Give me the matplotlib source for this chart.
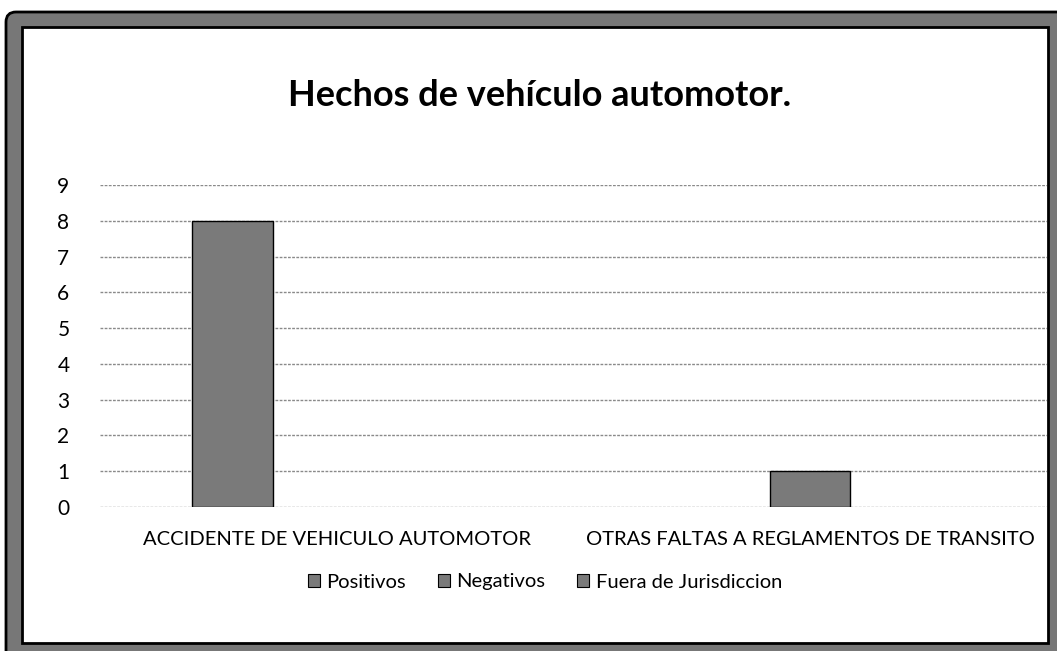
import numpy as np
import matplotlib
matplotlib.use('Agg')
import matplotlib.pyplot as plt
from matplotlib.patches import FancyBboxPatch, Rectangle

plt.rcParams['font.family'] = ['Lato', 'DejaVu Sans']

# Data
categories = ['ACCIDENTE DE VEHICULO AUTOMOTOR', 'OTRAS FALTAS A REGLAMENTOS DE TRANSITO']
series_names = ['Positivos', 'Negativos', 'Fuera de Jurisdiccion']
positivos = [8, 0]
negativos = [0, 1]
fuera = [0, 0]
y_ticks = list(range(0, 10))

W, H = 1057, 651
fig = plt.figure(figsize=(W / 100, H / 100), dpi=100)
fig.patch.set_facecolor('white')

# scanned frame around the chart
bg = fig.add_axes([0, 0, 1, 1])
bg.set_xlim(0, W)
bg.set_ylim(H, 0)
bg.axis('off')
bg.add_patch(FancyBboxPatch((6, 12), W + 20, H + 20, boxstyle='round,pad=0,rounding_size=10',
                            facecolor='#777777', edgecolor='black', linewidth=2))
bg.add_patch(Rectangle((22, 27), 1026, 616, facecolor='white', edgecolor='black', linewidth=2))

# plot area
ax = fig.add_axes([100 / W, (H - 507) / H, (1047 - 100) / W, (507 - 185) / H])
x = np.arange(len(categories))
width = 0.17
offset = 0.22
bar_color = '#7a7a7a'
for i, (name, vals) in enumerate(zip(series_names, [positivos, negativos, fuera])):
    lws = [1 if v else 0 for v in vals]
    ax.bar(x + (i - 1) * offset, vals, width, color=bar_color, edgecolor='black',
           linewidth=lws, label=name, zorder=3)

ax.set_xlim(-0.5, 1.5)
ax.set_ylim(0, 9)
ax.set_yticks(y_ticks)
ax.set_yticklabels([str(t) for t in y_ticks], fontsize=15)
ax.set_xticks(x)
ax.set_xticklabels(categories, fontsize=14.5)
ax.tick_params(length=0)
ax.tick_params(axis='y', pad=22)
ax.tick_params(axis='x', pad=17)
for s in ax.spines.values():
    s.set_visible(False)
ax.set_facecolor('none')
ax.grid(axis='y', color='#8a8a8a', linewidth=1, linestyle=(0, (2, 1)), zorder=0)

fig.text(540 / W, 1 - 95 / H, 'Hechos de vehículo automotor.', ha='center', va='center',
         fontsize=26, fontweight='bold')

leg = fig.legend(loc='center', bbox_to_anchor=(545 / W, 1 - 582 / H), ncol=3, frameon=False,
                 fontsize=14.5, handlelength=0.6, handleheight=0.6, handletextpad=0.3,
                 columnspacing=1.6)
for h in leg.legend_handles:
    h.set_linewidth(0.8)

plt.savefig('out.png', dpi=100)
